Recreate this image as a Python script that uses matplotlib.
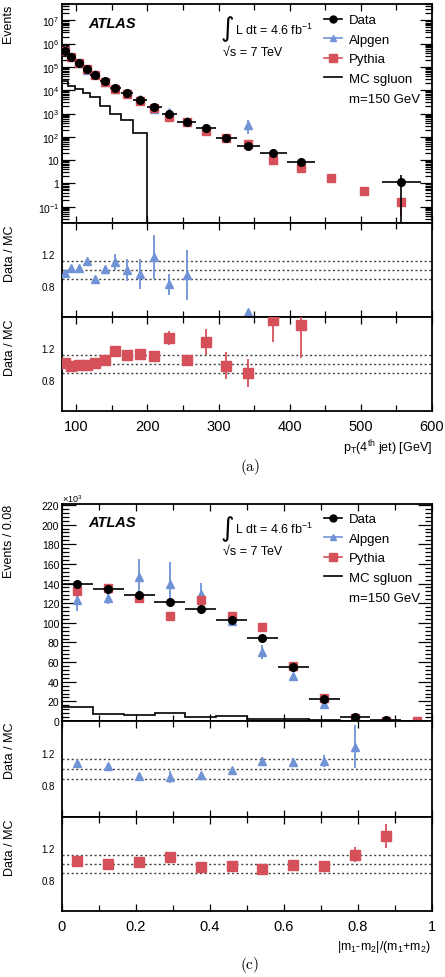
import numpy as np
import matplotlib
matplotlib.use("Agg")
import matplotlib.pyplot as plt
from matplotlib.lines import Line2D
from matplotlib.ticker import FixedLocator, MultipleLocator, LogLocator, FuncFormatter, NullFormatter

plt.rcParams['font.family'] = ['Liberation Sans', 'DejaVu Sans']
plt.rcParams['mathtext.fontset'] = 'custom'
plt.rcParams['mathtext.rm'] = 'Liberation Sans'
plt.rcParams['mathtext.it'] = 'Liberation Sans:italic'
plt.rcParams['mathtext.bf'] = 'Liberation Sans:bold'

W, H = 445, 978
BLUE = '#7093d6'
RED = '#d6505a'
nan = np.nan

# ---------------------------------------------------------
# (a) pT of the 4th jet
# ---------------------------------------------------------
pt_edges = [80, 88, 98, 109, 120, 133, 147, 163, 180, 199, 220, 242, 268,
            296, 326, 358, 396, 436, 480, 530, 584]
pt_data = [4.9e5, 2.6e5, 1.45e5, 8.3e4, 4.6e4, 2.4e4, 1.3e4, 7.5e3, 3.9e3,
           1.9e3, 970, 450, 235, 87, 42, 21, 8.7, nan, nan, 1.1]
pt_data_err = [0, 0, 0, 0, 0, 0, 0, 0, 0, 0, 0, 0, 0, 0, 0, 0, 0, 0, 0, 1.2]
pt_alpgen = [5.1e5, 2.54e5, 1.41e5, 7.5e4, 5.2e4, 2.36e4, 1.18e4, 7.5e3, 4.1e3,
             1.63e3, 1.19e3, 480, nan, nan, 330, nan, nan, nan, nan, nan]
pt_alpgen_err = [0, 0, 0, 0, 0, 0, 0, 0, 0, 0, 0, 0, 0, 0, 200, 0, 0, 0, 0, 0]
pt_pythia = [4.85e5, 2.65e5, 1.46e5, 8.4e4, 4.55e4, 2.3e4, 1.1e4, 6.7e3, 3.45e3,
             1.7e3, 680, 430, 180, 89, 49, 10, 4.8, 1.65, 0.47, 0.16]
pt_pythia_err = [0, 0, 0, 0, 0, 0, 0, 0, 0, 0, 0, 0, 0, 0, 0, 0, 0, 0, 0.1, 0.12]
pt_sgluon = [2.4e4, 1.5e4, 1.15e4, 7.4e3, 4.9e3, 2.0e3, 930, 530, 140]

pt_ratio_alpgen = [0.96, 1.025, 1.025, 1.11, 0.885, 1.015, 1.10, 0.995, 0.95,
                   1.165, 0.815, 0.94, nan, nan, 0.46, nan, nan, nan, nan, nan]
pt_ratio_alpgen_err = [0.01, 0.01, 0.01, 0.03, 0.01, 0.04, 0.10, 0.14, 0.19,
                       0.28, 0.14, 0.32, 0, 0, 0, 0, 0, 0, 0, 0]
pt_ratio_pythia = [1.01, 0.98, 0.99, 0.99, 1.01, 1.05, 1.17, 1.115, 1.13, 1.10,
                   1.33, 1.05, 1.28, 0.98, 0.885, 1.56, 1.50, nan, nan, nan]
pt_ratio_pythia_err = [0.01, 0.01, 0.01, 0.01, 0.01, 0.02, 0.03, 0.04, 0.05, 0.03,
                       0.09, 0.06, 0.17, 0.17, 0.18, 0.28, 0.42, 0, 0, 0]

# ---------------------------------------------------------
# (c) mass asymmetry
# ---------------------------------------------------------
asym_edges = [0, 1/12, 2/12, 3/12, 4/12, 5/12, 6/12, 7/12, 8/12, 9/12, 10/12, 11/12, 1]
asym_data = [140, 134.6, 128.5, 121.4, 114.3, 102.8, 84.9, 54.5, 22.0, 3.7, 0.6, nan]
asym_alpgen = [123.1, 125.5, 146.8, 139.4, 128.9, 101.8, 70.0, 46.3, 17.3, 2.8, nan, nan]
asym_alpgen_err = [11, 6, 18, 23, 12, 5, 7, 3, 2, 3, 0, 0]
asym_pythia = [132.3, 135.3, 124.8, 106.6, 123.5, 107.2, 95.7, 56.2, 23.3, 3.0, 0.5, 0.4]
asym_pythia_err = [2, 2, 2, 2, 2, 2, 2, 1.5, 1, 0.5, 0.3, 0.3]
asym_sgluon = [14.2, 7.2, 6.5, 7.8, 3.7, 4.7, 2.4, 2.4, 0.7, 0.5, 0.4, 0.3]

asym_ratio_alpgen = [1.07, 1.035, 0.915, 0.90, 0.92, 0.99, 1.105, 1.085, 1.10, 1.28, nan, nan]
asym_ratio_alpgen_err = [0.03, 0.02, 0.04, 0.07, 0.03, 0.02, 0.05, 0.05, 0.08, 0.27, 0, 0]
asym_ratio_pythia = [1.035, 1.005, 1.02, 1.095, 0.96, 0.98, 0.935, 0.985, 0.975, 1.12, 1.355, nan]
asym_ratio_pythia_err = [0.01, 0.01, 0.01, 0.02, 0.01, 0.01, 0.01, 0.01, 0.01, 0.10, 0.15, 0]

ratio_bands = [0.88, 1.0, 1.12]
ratio_ticks = [0.8, 1.2]


def rect(top, bottom):
    return [62 / W, 1 - bottom / H, 370 / W, (bottom - top) / H]


def centers(edges):
    e = np.asarray(edges, dtype=float)
    return 0.5 * (e[1:] + e[:-1]), 0.5 * (e[1:] - e[:-1])


def frame(ax):
    for s in ax.spines.values():
        s.set_linewidth(1.3)
    ax.tick_params(which='both', direction='in', top=True, right=True, width=0.9)
    ax.tick_params(axis='x', which='major', length=5)
    ax.tick_params(axis='x', which='minor', length=4)


def ratio_panel(ax, x, vals, errs, marker, color, ms, xlim, bottom=False):
    frame(ax)
    for lvl in ratio_bands:
        ax.axhline(lvl, color='#444444', lw=1.0, ls=(0, (1.5, 1.8)), zorder=1)
    ax.errorbar(x, vals, yerr=errs, fmt=marker, color=color, ms=ms,
                elinewidth=1.3, capsize=0, zorder=3)
    ax.set_xlim(*xlim)
    ax.set_ylim(0.4, 1.6)
    ax.yaxis.set_major_locator(FixedLocator(ratio_ticks))
    ax.yaxis.set_minor_locator(FixedLocator([]))
    ax.tick_params(axis='y', which='both', length=0, labelsize=7, pad=5)
    if not bottom:
        ax.tick_params(axis='x', labelbottom=False)
    else:
        ax.tick_params(axis='x', labelsize=10.5, pad=6)


def decorate_main(ax, pos):
    ax.text((88 - 62) / 370, pos[0], 'ATLAS', transform=ax.transAxes,
            fontsize=10.5, fontweight='bold', style='italic', va='center')
    ax.text((221 - 62) / 370, pos[1], '\u222b', transform=ax.transAxes,
            fontsize=19, family='DejaVu Sans', va='center')
    ax.text((235 - 62) / 370, pos[2], r'L dt = 4.6 fb$^{-1}$',
            transform=ax.transAxes, fontsize=9, va='center')
    ax.text((223 - 62) / 370, pos[3], '\u221as = 7 TeV',
            transform=ax.transAxes, fontsize=9, va='center')
    handles = [
        Line2D([], [], color='k', marker='o', ms=5, lw=1.2),
        Line2D([], [], color=BLUE, marker='^', ms=5, lw=1.2),
        Line2D([], [], color=RED, marker='s', ms=5.5, lw=1.2),
        Line2D([], [], color='k', lw=1.2),
        Line2D([], [], color='none'),
    ]
    labels = ['Data', 'Alpgen', 'Pythia', 'MC sgluon', 'm=150 GeV']
    ax.legend(handles, labels, loc='upper left', frameon=False,
              bbox_to_anchor=((324 - 62) / 370, pos[4]),
              borderaxespad=0, borderpad=0, fontsize=9.5, handlelength=1.35,
              handletextpad=0.55, labelspacing=0.56)


fig = plt.figure(figsize=(W / 100, H / 100), dpi=100)

# ----------------------------- panel (a)
xa, hwa = centers(pt_edges)
ax = fig.add_axes(rect(5, 224))
frame(ax)
ax.set_yscale('log')
ax.errorbar(xa, pt_alpgen, yerr=pt_alpgen_err, fmt='^', color=BLUE, ms=5.5,
            elinewidth=1.3, capsize=0, zorder=2)
ax.errorbar(xa, pt_pythia, yerr=[pt_pythia_err, [0] * len(pt_pythia_err)], fmt='s',
            color=RED, ms=6, elinewidth=1.3, capsize=0, zorder=3)
ax.errorbar(xa, pt_data, xerr=hwa, yerr=[np.minimum(pt_data_err, np.nan_to_num(pt_data) * 0.999), pt_data_err],
            fmt='o', color='k', ms=5.5, elinewidth=1.2, capsize=0, zorder=4)
ax.stairs(pt_sgluon, pt_edges[:len(pt_sgluon) + 1], baseline=1e-3, color='k', lw=1.2, zorder=1)
ax.set_xlim(80, 600)
ax.set_ylim(0.02, 5e7)
ax.xaxis.set_major_locator(MultipleLocator(100))
ax.xaxis.set_minor_locator(MultipleLocator(50))
ax.tick_params(axis='x', labelbottom=False)
ax.yaxis.set_major_locator(FixedLocator([10.0 ** k for k in range(-1, 8)]))
ax.yaxis.set_minor_locator(LogLocator(base=10, subs=np.arange(2, 10), numticks=30))
ax.yaxis.set_minor_formatter(NullFormatter())


def log_label(v, pos):
    k = int(round(np.log10(v)))
    if k == 0:
        return '1'
    if k == 1:
        return '10'
    return r'$10^{%d}$' % k


ax.yaxis.set_major_formatter(FuncFormatter(log_label))
ax.tick_params(axis='y', which='major', length=9, labelsize=7.5, pad=2)
ax.tick_params(axis='y', which='minor', length=5)
decorate_main(ax, [1 - (24 - 5) / 219, 1 - (29 - 5) / 219, 1 - (30 - 5) / 219,
                   1 - (53 - 5) / 219, 1 - (15 - 5) / 219])

r1 = fig.add_axes(rect(224, 318))
ratio_panel(r1, xa, pt_ratio_alpgen, pt_ratio_alpgen_err, '^', BLUE, 5.5, (80, 600))
r1.xaxis.set_major_locator(MultipleLocator(100))
r1.xaxis.set_minor_locator(MultipleLocator(50))
r2 = fig.add_axes(rect(318, 412))
ratio_panel(r2, xa, pt_ratio_pythia, pt_ratio_pythia_err, 's', RED, 6.5, (80, 600), bottom=True)
r2.xaxis.set_major_locator(MultipleLocator(100))
r2.xaxis.set_minor_locator(MultipleLocator(50))

fig.text(8 / W, 1 - 5 / H, 'Events', rotation=90, ha='center', va='top', fontsize=9)
fig.text(10 / W, 1 - 225 / H, 'Data / MC', rotation=90, ha='center', va='top', fontsize=9)
fig.text(10 / W, 1 - 319 / H, 'Data / MC', rotation=90, ha='center', va='top', fontsize=9)
fig.text(432 / W, 1 - 448 / H, r'p$_{\mathrm{T}}$(4$^{\mathrm{th}}$ jet) [GeV]',
         ha='right', va='center', fontsize=9)
fig.text(250 / W, 1 - 467 / H, r'$\mathrm{(a)}$', ha='center', va='center',
         fontsize=11, math_fontfamily='cm')

# ----------------------------- panel (c)
xc, hwc = centers(asym_edges)
ax = fig.add_axes(rect(505, 722))
frame(ax)
ax.errorbar(xc, asym_alpgen, yerr=asym_alpgen_err, fmt='^', color=BLUE, ms=5.5,
            elinewidth=1.3, capsize=0, zorder=2)
ax.errorbar(xc, asym_pythia, yerr=asym_pythia_err, fmt='s', color=RED, ms=6,
            elinewidth=1.3, capsize=0, zorder=3)
ax.errorbar(xc, asym_data, xerr=hwc, fmt='o', color='k', ms=5.5, elinewidth=1.2,
            capsize=0, zorder=4)
ax.stairs(asym_sgluon, asym_edges, baseline=None, color='k', lw=1.2, zorder=1)
ax.set_xlim(0, 1)
ax.set_ylim(0, 221)
ax.xaxis.set_major_locator(MultipleLocator(0.2))
ax.xaxis.set_minor_locator(MultipleLocator(0.1))
ax.tick_params(axis='x', labelbottom=False)
ax.yaxis.set_major_locator(MultipleLocator(20))
ax.yaxis.set_minor_locator(MultipleLocator(4))
ax.tick_params(axis='y', which='major', length=10, labelsize=7.5, pad=2)
ax.tick_params(axis='y', which='minor', length=5)
ax.text(0.0, 1.0, r'$\times10^{3}$', transform=ax.transAxes, fontsize=6.5,
        ha='left', va='bottom')
decorate_main(ax, [1 - (523 - 505) / 217, 1 - (529 - 505) / 217, 1 - (529 - 505) / 217,
                   1 - (552 - 505) / 217, 1 - (514 - 505) / 217])

r1 = fig.add_axes(rect(722, 818))
ratio_panel(r1, xc, asym_ratio_alpgen, asym_ratio_alpgen_err, '^', BLUE, 5.5, (0, 1))
r1.xaxis.set_major_locator(MultipleLocator(0.2))
r1.xaxis.set_minor_locator(MultipleLocator(0.1))
r2 = fig.add_axes(rect(818, 912))
ratio_panel(r2, xc, asym_ratio_pythia, asym_ratio_pythia_err, 's', RED, 6.5, (0, 1), bottom=True)
r2.xaxis.set_major_locator(MultipleLocator(0.2))
r2.xaxis.set_minor_locator(MultipleLocator(0.1))
r2.xaxis.set_major_formatter(FuncFormatter(lambda v, p: '%g' % round(v, 2)))

fig.text(9 / W, 1 - 505 / H, 'Events / 0.08', rotation=90, ha='center', va='top', fontsize=9)
fig.text(10 / W, 1 - 723 / H, 'Data / MC', rotation=90, ha='center', va='top', fontsize=9)
fig.text(10 / W, 1 - 819 / H, 'Data / MC', rotation=90, ha='center', va='top', fontsize=9)
fig.text(431 / W, 1 - 947 / H, r'|m$_1$-m$_2$|/(m$_1$+m$_2$)',
         ha='right', va='center', fontsize=9)
fig.text(250 / W, 1 - 965 / H, r'$\mathrm{(c)}$', ha='center', va='center',
         fontsize=11, math_fontfamily='cm')

fig.savefig('out.png', dpi=100)
